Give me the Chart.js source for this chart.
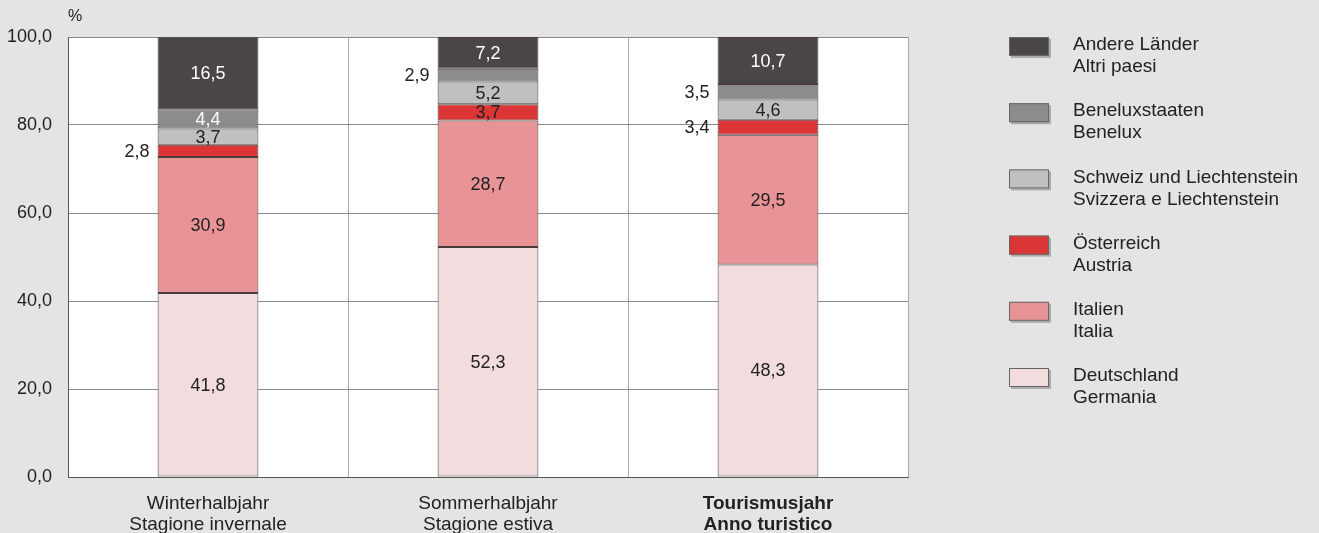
<!DOCTYPE html>
<html lang="de">
<head>
    <meta charset="UTF-8">
    <title>Gäste nach Herkunft</title>
    <script src="https://cdn.jsdelivr.net/npm/chart.js@4"></script>
    <style>
        html, body { margin: 0; padding: 0; background: #e4e4e4; }
        #wrap { width: 1319px; height: 533px; position: relative; }
    </style>
</head>
<body>
    <div id="wrap"><canvas id="chart" width="1319" height="533"></canvas></div>

    <script>
        // Categories (two-line labels, German / Italian)
        const periods = [
            ['Winterhalbjahr', 'Stagione invernale'],
            ['Sommerhalbjahr', 'Stagione estiva'],
            ['Tourismusjahr', 'Anno turistico']
        ];

        // Series, bottom to top of the stack
        const seriesNames = [
            ['Deutschland', 'Germania'],
            ['Italien', 'Italia'],
            ['Österreich', 'Austria'],
            ['Schweiz und Liechtenstein', 'Svizzera e Liechtenstein'],
            ['Beneluxstaaten', 'Benelux'],
            ['Andere Länder', 'Altri paesi']
        ];
        const germany = [41.8, 52.3, 48.3];
        const italy = [30.9, 28.7, 29.5];
        const austria = [2.8, 3.7, 3.4];
        const swiss = [3.7, 5.2, 4.6];
        const benelux = [4.4, 2.9, 3.5];
        const others = [16.5, 7.2, 10.7];

        const yTicks = [0, 20, 40, 60, 80, 100];

        const seriesValues = [germany, italy, austria, swiss, benelux, others];
        const seriesColors = ['#f2dcdd', '#e89496', '#dc3535', '#c0c0c0', '#8c8c8c', '#4a4646'];
        const lightText = [false, false, false, false, true, true];

        const FONT = 'Arial, "Liberation Sans", sans-serif';
        const fmt = v => v.toFixed(1).replace('.', ',');

        // white plot area
        const plotBg = {
            id: 'plotBg',
            beforeDraw(chart) {
                const a = chart.chartArea;
                chart.ctx.save();
                chart.ctx.fillStyle = '#fff';
                chart.ctx.fillRect(a.left, a.top, a.right - a.left, a.bottom - a.top);
                chart.ctx.restore();
            }
        };

        // value labels on the segments (small ones go to the left of the bar)
        const valueLabels = {
            id: 'valueLabels',
            afterDatasetsDraw(chart) {
                const ctx = chart.ctx;
                ctx.save();
                ctx.font = '18px ' + FONT;
                ctx.textBaseline = 'middle';
                chart.data.datasets.forEach((ds, di) => {
                    chart.getDatasetMeta(di).data.forEach((bar, i) => {
                        const v = ds.data[i];
                        const yMid = (bar.y + bar.base) / 2;
                        if (v < 3.6) {
                            ctx.fillStyle = '#222';
                            ctx.textAlign = 'right';
                            ctx.fillText(fmt(v), bar.x - bar.width / 2 - 8, yMid + 1);
                        } else {
                            ctx.fillStyle = lightText[di] ? '#fff' : '#222';
                            ctx.textAlign = 'center';
                            ctx.fillText(fmt(v), bar.x, yMid + 1);
                        }
                    });
                });
                ctx.restore();
            }
        };

        // unit, and the two-line legend on the right
        const extras = {
            id: 'extras',
            afterDraw(chart) {
                const ctx = chart.ctx;
                ctx.save();
                ctx.font = '16px ' + FONT;
                ctx.fillStyle = '#222';
                ctx.textAlign = 'left';
                ctx.textBaseline = 'middle';
                ctx.fillText('%', 68, 17);

                ctx.font = '19px ' + FONT;
                const n = seriesNames.length;
                for (let k = 0; k < n; k++) {
                    const di = n - 1 - k;
                    const top = 37 + k * 66.2;
                    ctx.fillStyle = 'rgba(0,0,0,0.25)';
                    ctx.fillRect(1011, top + 2, 40, 19);
                    ctx.fillStyle = seriesColors[di];
                    ctx.fillRect(1009, top, 40, 19);
                    ctx.strokeStyle = '#666';
                    ctx.lineWidth = 1;
                    ctx.strokeRect(1009.5, top + 0.5, 39, 18);
                    ctx.fillStyle = '#222';
                    ctx.fillText(seriesNames[di][0], 1073, top + 8);
                    ctx.fillText(seriesNames[di][1], 1073, top + 30);
                }
                ctx.restore();
            }
        };

        new Chart(document.getElementById('chart'), {
            type: 'bar',
            data: {
                labels: periods,
                datasets: seriesValues.map((vals, i) => ({
                    label: seriesNames[i].join(' / '),
                    data: vals,
                    backgroundColor: seriesColors[i],
                    borderColor: '#4a3c3c',
                    borderWidth: 1,
                    borderSkipped: false,
                    categoryPercentage: 1,
                    barPercentage: 0.36
                }))
            },
            options: {
                responsive: false,
                animation: false,
                layout: { padding: { top: 37, right: 411, left: 0, bottom: 0 } },
                plugins: {
                    legend: { display: false },
                    tooltip: { enabled: false }
                },
                scales: {
                    x: {
                        stacked: true,
                        offset: true,
                        grid: { offset: true, color: '#a8a8a8', drawTicks: false },
                        border: { color: '#555' },
                        afterFit: s => { s.height = 56; },
                        ticks: {
                            padding: 16,
                            color: '#222',
                            font: c => ({ family: FONT, size: 19, weight: c.index === 2 ? 'bold' : 'normal', lineHeight: 1.12 })
                        }
                    },
                    y: {
                        stacked: true,
                        min: 0,
                        max: 100,
                        afterFit: s => { s.width = 68; },
                        afterBuildTicks: s => { s.ticks = yTicks.map(v => ({ value: v })); },
                        grid: { color: '#8a8a8a', drawTicks: false },
                        border: { color: '#555' },
                        ticks: {
                            padding: 16,
                            color: '#222',
                            font: { family: FONT, size: 18 },
                            callback: v => fmt(v)
                        }
                    }
                }
            },
            plugins: [plotBg, valueLabels, extras]
        });
    </script>
</body>
</html>
